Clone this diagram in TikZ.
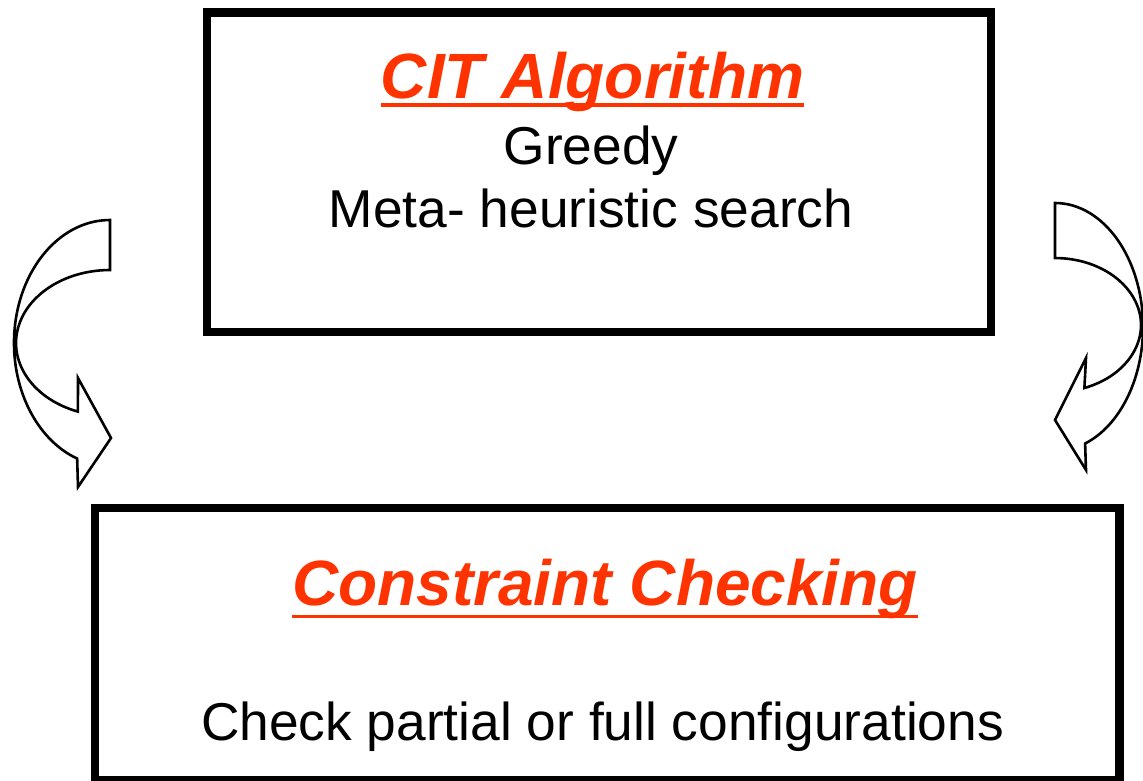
\documentclass[tikz,border=0pt]{standalone}
\usepackage{fontspec}
\setmainfont{Liberation Sans}
\definecolor{titlered}{RGB}{255,51,0}
\tikzset{
  bigbox/.style={draw=black, line width=8.5pt, fill=none, inner sep=0pt},
  titletext/.style={text=titlered, font=\fontsize{64}{70}\selectfont\bfseries\itshape, inner sep=0pt, anchor=base},
  bodytext/.style={text=black, font=\fontsize{53.3}{59}\selectfont, inner sep=0pt, anchor=base},
  uline/.style={draw=titlered, line width=3.5pt},
  curvedarrow/.style={draw=black, line width=2.6pt, fill=white, line join=miter}
}
\begin{document}
\begin{tikzpicture}[x=1pt,y=-1pt]
\useasboundingbox (0,0) rectangle (1143,780);
% boxes
\node[bigbox, minimum width=784pt, minimum height=319.7pt] (top) at (599,172.2) {};
\node[bigbox, minimum width=1024.3pt, minimum height=272pt] (bot) at (607.35,644) {};
% top texts
\node[titletext] (t1) at (592.5,98.3) {CIT Algorithm};
\draw[uline] ([yshift=-6.7pt]t1.base west) -- ([yshift=-6.7pt]t1.base east);
\node[bodytext] (g) at (591,164) {Greedy};
\node[bodytext] (m) at (591,227) {Meta- heuristic search};
% bottom texts
\node[titletext] (t2) at (605,605) {Constraint Checking};
\draw[uline] ([yshift=-11.5pt]t2.base west) -- ([yshift=-11.5pt]t2.base east);
\node[bodytext] (c) at (602.5,740) {Check partial or full configurations};
% left curved arrow
\draw[curvedarrow] (110,220) arc[start angle=90, end angle=250, x radius=96pt, y radius=123pt]
  -- (78,487) -- (111,438) -- (78,378) -- (77.9,411.6)
  arc[start angle=250, end angle=90, x radius=94pt, y radius=73pt] -- cycle;
% right curved arrow
\draw[curvedarrow] (1055,203) arc[start angle=90, end angle=-70, x radius=88pt, y radius=124pt]
  -- (1086,470) -- (1055,420) -- (1086,358) -- (1084.4,388)
  arc[start angle=-70, end angle=90, x radius=86pt, y radius=67pt] -- cycle;
\end{tikzpicture}
\end{document}
